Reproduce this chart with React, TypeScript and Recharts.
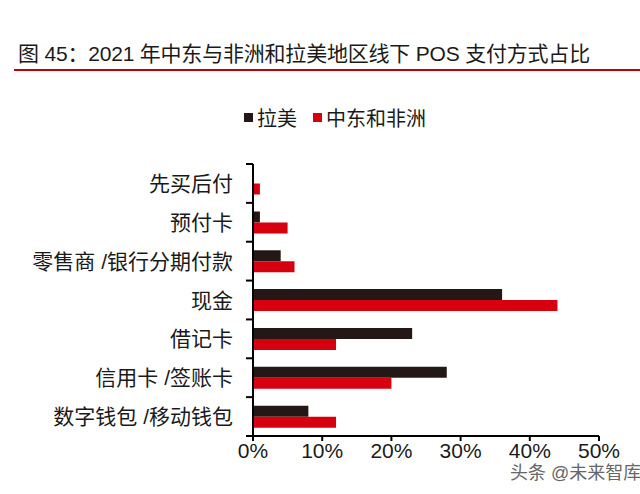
import { BarChart, Bar, XAxis, YAxis } from "recharts";

const categories = [
  "先买后付",
  "预付卡",
  "零售商 /银行分期付款",
  "现金",
  "借记卡",
  "信用卡 /签账卡",
  "数字钱包 /移动钱包",
];
const latam = [0, 1, 4, 36, 23, 28, 8];
const mea = [1, 5, 6, 44, 12, 20, 12];
const xTicks = [0, 10, 20, 30, 40, 50];

const data = categories.map((name, i) => ({
  name,
  latam: latam[i],
  mea: mea[i],
}));

const BLACK = "#231815";
const RED = "#d7000f";
const FONT = "'Liberation Sans', 'Noto Sans CJK SC', sans-serif";

const W = 640;
const H = 494;
const M = { top: 164, right: 41, bottom: 28, left: 0 };
const Y_AXIS_W = 253;
const X_AXIS_H = 30;
const BAND = (H - M.top - M.bottom - X_AXIS_H) / categories.length;

// category label plus the small tick marks that sit on the band edges
const renderCatTick = (props: any) => {
  const { y, payload, index } = props;
  const ax = M.left + Y_AXIS_W;
  const top = Number(y) - BAND / 2;
  return (
    <g key={`cat-${index}`}>
      <rect x={ax - 7} y={top - 1} width={7} height={2} fill="#000" />
      {index === categories.length - 1 && (
        <rect x={ax - 7} y={top + BAND - 1} width={7} height={2} fill="#000" />
      )}
      <text
        x={ax - 20}
        y={y}
        textAnchor="end"
        dominantBaseline="central"
        fill="#1a1a1a"
        fontSize={21}
        fontFamily={FONT}
      >
        {payload.value}
      </text>
    </g>
  );
};

export default function App() {
  return (
    <div
      style={{
        position: "relative",
        width: W,
        height: H,
        background: "#fff",
        fontFamily: FONT,
        overflow: "hidden",
      }}
    >
      <style>{`body{margin:0}`}</style>
      <div
        style={{
          position: "absolute",
          left: 18,
          top: 37,
          fontSize: 21,
          color: "#1a1a1a",
          whiteSpace: "nowrap",
          letterSpacing: -0.2,
        }}
      >
        图 45：2021 年中东与非洲和拉美地区线下 POS 支付方式占比
      </div>
      <div
        style={{
          position: "absolute",
          left: 14,
          top: 69,
          width: 626,
          height: 2,
          background: "#c00010",
        }}
      />
      <div
        style={{
          position: "absolute",
          left: 0,
          width: W,
          top: 103,
          display: "flex",
          justifyContent: "center",
          fontSize: 20,
          color: "#1a1a1a",
          paddingLeft: 30,
          boxSizing: "border-box",
        }}
      >
        <span style={{ display: "flex", alignItems: "center", marginRight: 16 }}>
          <span style={{ width: 9, height: 9, background: BLACK, marginRight: 4 }} />
          拉美
        </span>
        <span style={{ display: "flex", alignItems: "center" }}>
          <span style={{ width: 9, height: 9, background: RED, marginRight: 4 }} />
          中东和非洲
        </span>
      </div>
      <div style={{ position: "absolute", left: 0, top: 0 }}>
        <BarChart
          width={W}
          height={H}
          data={data}
          layout="vertical"
          margin={M}
          barCategoryGap="22%"
          barGap={0}
        >
          <XAxis
            type="number"
            domain={[0, 50]}
            ticks={xTicks}
            tickFormatter={(v) => `${v}%`}
            height={X_AXIS_H}
            axisLine={{ stroke: "#000", strokeWidth: 2 }}
            tickLine={{ stroke: "#000", strokeWidth: 2 }}
            tickSize={5}
            tick={{ fill: "#1a1a1a", fontSize: 21, fontFamily: FONT }}
            interval={0}
          />
          <YAxis
            type="category"
            dataKey="name"
            width={Y_AXIS_W}
            axisLine={{ stroke: "#000", strokeWidth: 2 }}
            tickLine={false}
            tick={renderCatTick}
            interval={0}
          />
          <Bar dataKey="latam" fill={BLACK} isAnimationActive={false} />
          <Bar dataKey="mea" fill={RED} isAnimationActive={false} />
        </BarChart>
      </div>
      <div
        style={{
          position: "absolute",
          left: 510,
          top: 458,
          fontSize: 18,
          color: "#666",
          whiteSpace: "nowrap",
          textShadow: "0 0 2px #fff",
        }}
      >
        头条 @未来智库
      </div>
    </div>
  );
}
